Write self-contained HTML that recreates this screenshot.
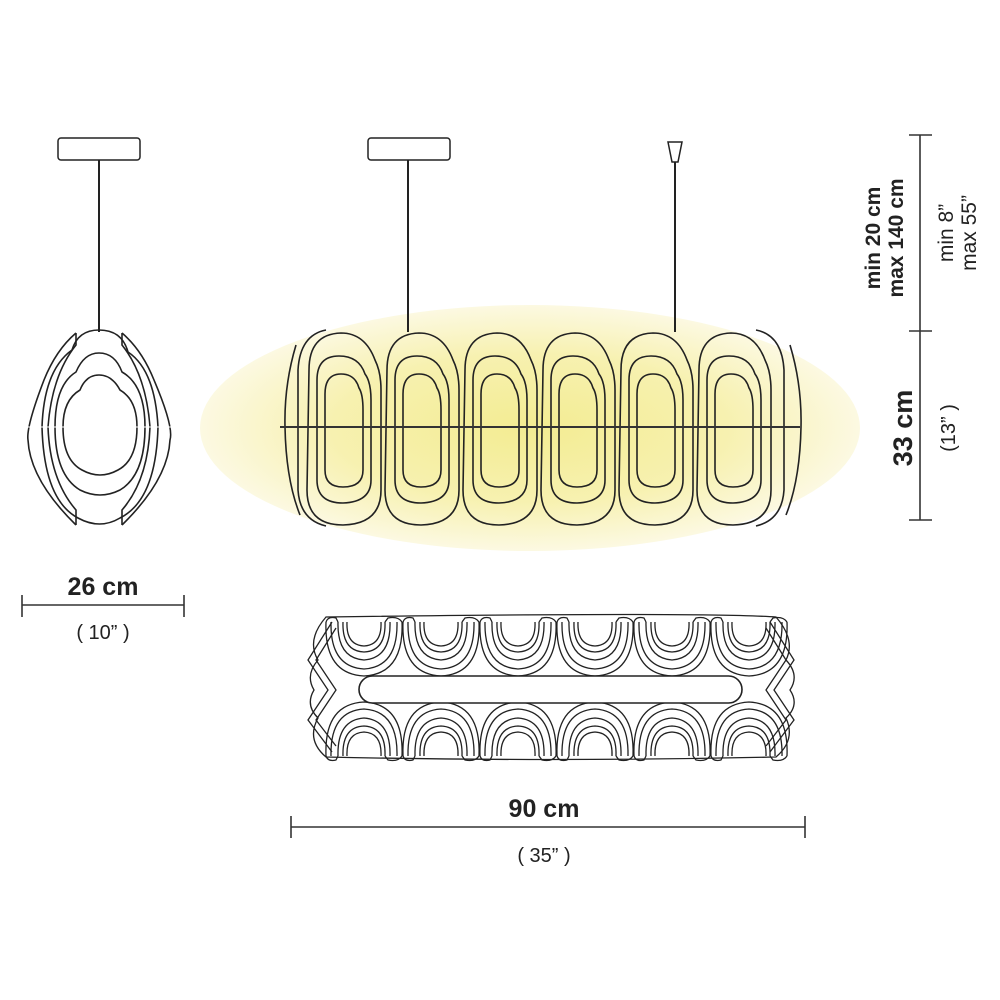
<!DOCTYPE html>
<html><head><meta charset="utf-8"><style>
html,body{margin:0;padding:0;background:#fff;}
svg{display:block;font-family:"Liberation Sans",sans-serif;}
</style></head><body>
<svg width="1000" height="1000" viewBox="0 0 1000 1000" xmlns="http://www.w3.org/2000/svg">
<defs>
<radialGradient id="glow" cx="0.5" cy="0.5" r="0.5">
<stop offset="0" stop-color="#f3ec92"/>
<stop offset="0.6" stop-color="#f7f1b0"/>
<stop offset="1" stop-color="#fcf9e2"/>
</radialGradient>
<g id="mod" fill="none" stroke="#222" stroke-width="1.6">
<path d="M6,40 Q6,4 38,3 Q62,3 72,30 Q78,42 78,60 L78,160 Q78,194 40,195 Q4,195 4,160 Z"/>
<path d="M14,50 Q14,26 36,26 Q56,26 62,44 Q68,52 68,70 L68,150 Q68,172 40,173 Q14,173 14,150 Z"/>
<path d="M22,64 Q22,44 38,44 Q52,44 56,58 Q60,64 60,80 L60,140 Q60,157 40,157 Q22,157 22,140 Z"/>
</g>
<g id="u" fill="none" stroke="#222" stroke-width="1.3">
<path d="M-38,0 Q-40,52 0,54 Q40,52 38,0"/>
<path d="M-33,0 Q-34,45 0,47 Q34,45 33,0"/>
<path d="M-26,0 Q-27,36 0,38 Q27,36 26,0"/>
<path d="M-21,0 Q-22,29 0,30 Q22,29 21,0"/>
<path d="M-38,0 Q-36,-6 -28,-4 L-26,0 M21,0 L24,-4 Q34,-6 38,0" />
<path d="M-17,0 Q-18,23 0,24 Q18,23 17,0"/>
</g>
</defs>

<ellipse cx="530" cy="428" rx="330" ry="123" fill="url(#glow)"/>

<rect x="58" y="138" width="82" height="22" rx="3" fill="#fff" stroke="#222" stroke-width="1.5"/>
<line x1="99" y1="160" x2="99" y2="332" stroke="#222" stroke-width="2"/>
<rect x="368" y="138" width="82" height="22" rx="3" fill="#fff" stroke="#222" stroke-width="1.5"/>
<line x1="408" y1="160" x2="408" y2="332" stroke="#222" stroke-width="2"/>
<path d="M668,142 L682,142 L678,162 L672,162 Z" fill="#fff" stroke="#222" stroke-width="1.5"/>
<line x1="675" y1="162" x2="675" y2="332" stroke="#222" stroke-width="2"/>

<g fill="none" stroke="#222" stroke-width="1.6">
<path d="M76,333 Q56,350 44,380 Q26,427 28,440 Q30,480 76,525"/>
<path d="M122,333 Q142,350 154,380 Q174,427 170,440 Q168,480 122,525"/>
<path d="M76,333 L76,345 Q52,375 48,427 Q50,480 76,510 L76,525"/>
<path d="M122,333 L122,345 Q146,375 150,427 Q148,480 122,510 L122,525"/>
<path d="M99,330 Q122,330 128,352 Q155,370 158,427 Q156,500 120,518 Q100,530 78,518 Q44,500 42,427 Q44,370 72,350 Q78,330 99,330 Z"/>
<path d="M99,353 Q115,353 122,372 Q145,385 145,427 Q145,475 120,490 Q100,500 80,490 Q55,475 55,427 Q55,385 76,372 Q84,353 99,353 Z"/>
<path d="M99,375 Q112,375 120,390 Q137,400 137,427 Q137,460 118,470 Q100,480 82,470 Q63,460 63,427 Q63,400 80,390 Q86,375 99,375 Z"/>
</g>
<line x1="25" y1="427" x2="175" y2="427" stroke="#fff" stroke-width="1"/>

<g fill="none" stroke="#222" stroke-width="1.6">
<path d="M296,345 Q284,385 285,427 Q286,480 300,515"/>
<path d="M326,330 Q300,335 298,370 L298,490 Q300,520 326,526"/>
<path d="M790,345 Q802,385 801,427 Q800,480 786,515"/>
<path d="M756,330 Q782,335 784,370 L784,490 Q782,520 756,526"/>
</g>
<use href="#mod" x="303" y="330"/>
<use href="#mod" x="381" y="330"/>
<use href="#mod" x="459" y="330"/>
<use href="#mod" x="537" y="330"/>
<use href="#mod" x="615" y="330"/>
<use href="#mod" x="693" y="330"/>
<line x1="280" y1="427" x2="800" y2="427" stroke="#333" stroke-width="2"/>

<g fill="none" stroke="#222" stroke-width="1.3">
<path d="M326,617 Q700,612 776,617 Q796,640 786,660 Q800,675 790,690 Q800,705 786,718 Q796,740 776,757 Q550,762 326,757 Q306,740 318,718 Q305,705 314,690 Q305,675 318,660 Q306,640 326,617 Z"/>
<path d="M332,622 L308,660 L328,690 L308,720 L332,752"/>
<path d="M336,628 L316,660 L336,690 L316,720 L336,746"/>
<path d="M770,622 L794,660 L774,690 L794,720 L770,752"/>
<path d="M766,628 L786,660 L766,690 L786,720 L766,746"/>
</g>
<g>
<use href="#u" x="364" y="622"/>
<use href="#u" x="441" y="622"/>
<use href="#u" x="518" y="622"/>
<use href="#u" x="595" y="622"/>
<use href="#u" x="672" y="622"/>
<use href="#u" x="749" y="622"/>
<g transform="translate(0,1378) scale(1,-1)">
<use href="#u" x="364" y="622"/>
<use href="#u" x="441" y="622"/>
<use href="#u" x="518" y="622"/>
<use href="#u" x="595" y="622"/>
<use href="#u" x="672" y="622"/>
<use href="#u" x="749" y="622"/>
</g>
</g>
<rect x="359" y="676" width="383" height="27" rx="13.5" fill="#fff" stroke="#222" stroke-width="1.6"/>

<g stroke="#333" stroke-width="1.6">
<line x1="22" y1="605" x2="184" y2="605"/><line x1="22" y1="595" x2="22" y2="617"/><line x1="184" y1="595" x2="184" y2="617"/>
<line x1="291" y1="827" x2="805" y2="827"/><line x1="291" y1="816" x2="291" y2="838"/><line x1="805" y1="816" x2="805" y2="838"/>
<line x1="920" y1="135" x2="920" y2="520"/>
<line x1="909" y1="135" x2="932" y2="135"/><line x1="909" y1="331" x2="932" y2="331"/><line x1="909" y1="520" x2="932" y2="520"/>
</g>
<g fill="#222">
<text x="103" y="595" font-size="25" font-weight="bold" text-anchor="middle">26 cm</text>
<text x="103" y="639" font-size="20" text-anchor="middle">( 10” )</text>
<text x="544" y="817" font-size="25" font-weight="bold" text-anchor="middle">90 cm</text>
<text x="544" y="862" font-size="20" text-anchor="middle">( 35” )</text>
<text transform="translate(880,238) rotate(-90)" font-size="21" font-weight="bold" text-anchor="middle">min 20 cm</text>
<text transform="translate(903,238) rotate(-90)" font-size="21" font-weight="bold" text-anchor="middle">max 140 cm</text>
<text transform="translate(953,233) rotate(-90)" font-size="21" text-anchor="middle">min 8”</text>
<text transform="translate(976,233) rotate(-90)" font-size="21" text-anchor="middle">max 55”</text>
<text transform="translate(912,428) rotate(-90)" font-size="27" font-weight="bold" text-anchor="middle">33 cm</text>
<text transform="translate(955,428) rotate(-90)" font-size="20" text-anchor="middle">(13” )</text>
</g>
</svg>
</body></html>
